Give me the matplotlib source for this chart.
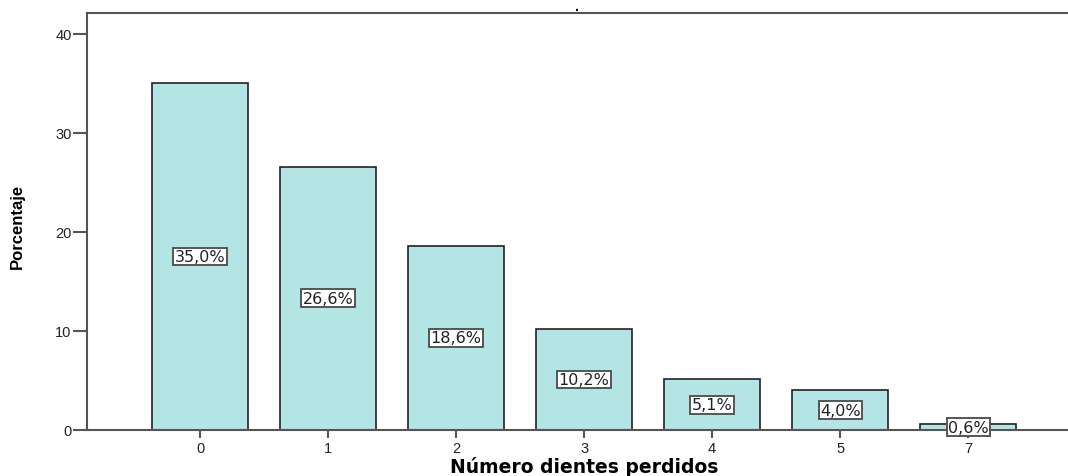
import os
import matplotlib
matplotlib.use("Agg")
import matplotlib.pyplot as plt
from matplotlib import font_manager
from matplotlib.font_manager import FontProperties

categorias = ["0", "1", "2", "3", "4", "5", "7"]
porcentajes = [35.0, 26.6, 18.6, 10.2, 5.1, 4.0, 0.6]
etiquetas = ["35,0%", "26,6%", "18,6%", "10,2%", "5,1%", "4,0%", "0,6%"]

plt.rcParams["font.family"] = ["Liberation Sans", "DejaVu Sans"]

# DejaVu Sans de ancho normal, tomada de los ficheros de matplotlib
ttf = os.path.join(matplotlib.get_data_path(), "fonts", "ttf")
fuente_caja = FontProperties(fname=os.path.join(ttf, "DejaVuSans.ttf"), size=11.5)
fuente_eje = FontProperties(fname=os.path.join(ttf, "DejaVuSans-Bold.ttf"), size=13.5)

fig = plt.figure(figsize=(10.68, 4.77), dpi=100)
ax = fig.add_axes([87 / 1068, 1 - 431 / 477, 1 - 87 / 1068, (431 - 14) / 477])

posiciones = range(len(categorias))
ax.bar(posiciones, porcentajes, width=0.75, color="#b3e5e5",
       edgecolor="#222222", linewidth=1.2, zorder=2)

# etiqueta de porcentaje a media altura de cada barra
for x, v, txt in zip(posiciones, porcentajes, etiquetas):
    ax.text(x, v / 2, txt, ha="center", va="center", fontproperties=fuente_caja,
            color="#222222", zorder=3,
            bbox=dict(boxstyle="square,pad=0.08", facecolor="white",
                      edgecolor="#555555", linewidth=1.4))

ax.set_xlim(-0.883, 6.78)
ax.set_ylim(0, 42.1)
ax.set_xticks(list(posiciones))
ax.set_xticklabels(categorias)
ax.set_yticks([0, 10, 20, 30, 40])

for lado in ["left", "bottom", "top"]:
    ax.spines[lado].set_color("#555555")
    ax.spines[lado].set_linewidth(1.5)
ax.spines["right"].set_visible(False)

ax.tick_params(axis="y", length=10, width=1.5, color="#555555",
               labelsize=10.5, pad=1, labelcolor="#222222")
ax.tick_params(axis="x", length=6, width=1.5, color="#555555",
               labelsize=10.5, pad=2, labelcolor="#222222")

ax.set_title(".", fontsize=10, fontweight="bold", pad=0)
ax.set_xlabel("Número dientes perdidos", fontproperties=fuente_eje, va="center")
ax.xaxis.set_label_coords(0.507, (431 - 467) / 417)

nombres = {f.name for f in font_manager.fontManager.ttflist}
estrecha = "Liberation Sans Narrow" if "Liberation Sans Narrow" in nombres else "Liberation Sans"
ax.set_ylabel("Porcentaje", fontsize=12, fontweight="bold",
              family=[estrecha, "DejaVu Sans"])
ax.yaxis.set_label_coords(-62 / 981, 0.49)

fig.savefig("out.png", dpi=100)
